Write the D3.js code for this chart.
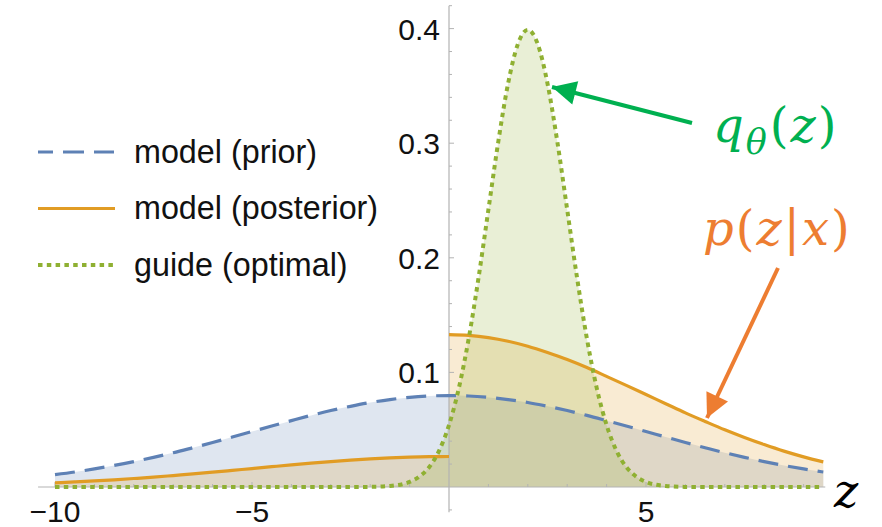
<!DOCTYPE html>
<html><head><meta charset="utf-8">
<script src="https://cdn.jsdelivr.net/npm/d3@7"></script>
<style>
body{margin:0;background:#fff;}
svg{display:block;}
</style></head><body>
<svg id="chart" width="882" height="527"></svg>
<script>
// ---------- data ----------
const priorZ = [-10,-9.5,-9,-8.5,-8,-7.5,-7,-6.5,-6,-5.5,-5,-4.5,-4,-3.5,-3,-2.5,-2,-1.5,-1,-0.5,0,0.5,1,1.5,2,2.5,3,3.5,4,4.5,5,5.5,6,6.5,7,7.5,8,8.5,9,9.5];
const priorP = [0.0108,0.0131,0.0158,0.0188,0.0222,0.0259,0.0299,0.0343,0.0388,0.0436,0.0484,0.0532,0.0579,0.0625,0.0667,0.0704,0.0737,0.0763,0.0782,0.0794,0.0798,0.0794,0.0782,0.0763,0.0737,0.0704,0.0667,0.0625,0.0579,0.0532,0.0484,0.0436,0.0388,0.0343,0.0299,0.0259,0.0222,0.0188,0.0158,0.0131];

const postLeftZ = [-10,-9.5,-9,-8.5,-8,-7.5,-7,-6.5,-6,-5.5,-5,-4.5,-4,-3.5,-3,-2.5,-2,-1.5,-1,-0.5,0];
const postLeftP = [0.0036,0.0044,0.0053,0.0063,0.0074,0.0086,0.0100,0.0114,0.0129,0.0145,0.0161,0.0177,0.0193,0.0208,0.0222,0.0235,0.0246,0.0254,0.0261,0.0265,0.0266];
const postRightZ = [0,0.5,1,1.5,2,2.5,3,3.5,4,4.5,5,5.5,6,6.5,7,7.5,8,8.5,9,9.5];
const postRightP = [0.1330,0.1323,0.1304,0.1272,0.1228,0.1173,0.1112,0.1042,0.0965,0.0887,0.0807,0.0727,0.0647,0.0572,0.0499,0.0432,0.0370,0.0313,0.0263,0.0219];

const guideZ = [-10,-6,-3,-2,-1.5,-1,-0.75,-0.5,-0.25,0,0.25,0.5,0.75,1,1.25,1.5,1.75,2,2.25,2.5,2.75,3,3.25,3.5,3.75,4,4.25,4.5,4.75,5,5.5,6,7,9.5];
const guideP = [0,0,0,0.0001,0.0009,0.0044,0.0091,0.0175,0.0317,0.0540,0.0863,0.1295,0.1826,0.2420,0.3011,0.3521,0.3867,0.3989,0.3867,0.3521,0.3011,0.2420,0.1826,0.1295,0.0863,0.0540,0.0317,0.0175,0.0091,0.0044,0.0009,0.0001,0,0];

const xMajorTicks = [-10,-5,5];
const xMinorTicks = [-9,-8,-7,-6,-4,-3,-2,-1,1,2,3,4,6,7,8,9];
const yMajorTicks = [0.1,0.2,0.3,0.4];
const yMinorTicks = [-0.02,0.02,0.04,0.06,0.08,0.12,0.14,0.16,0.18,0.22,0.24,0.26,0.28,0.32,0.34,0.36,0.38,0.42];
const xTickLabels = ["\u221210","\u22125","5"];
const yTickLabels = ["0.1","0.2","0.3","0.4"];
const legendLabels = ["model (prior)","model (posterior)","guide (optimal)"];

// ---------- layout ----------
const colPrior = "#5e81b5", colPost = "#e19c24", colGuide = "#8fb032";
const svg = d3.select("#chart");
svg.append("rect").attr("width",882).attr("height",527).attr("fill","#fff");

const x = d3.scaleLinear().domain([0, 5]).range([449, 646]);
const y = d3.scaleLinear().domain([0, 0.4]).range([487, 28.6]);

const toPts = (zs, ps) => zs.map((z,i)=>[z, ps[i]]);
const area = d3.area().x(d=>x(d[0])).y0(y(0)).y1(d=>y(d[1])).curve(d3.curveMonotoneX);
const line = d3.line().x(d=>x(d[0])).y(d=>y(d[1])).curve(d3.curveMonotoneX);

const prior = toPts(priorZ, priorP);
const postL = toPts(postLeftZ, postLeftP);
const postR = toPts(postRightZ, postRightP);
const guide = toPts(guideZ, guideP);

const fills = svg.append("g");
fills.append("path").attr("d", area(prior)).attr("fill", colPrior).attr("fill-opacity", 0.2);
fills.append("path").attr("d", area(postL)).attr("fill", colPost).attr("fill-opacity", 0.2);
fills.append("path").attr("d", area(postR)).attr("fill", colPost).attr("fill-opacity", 0.2);
fills.append("path").attr("d", area(guide)).attr("fill", colGuide).attr("fill-opacity", 0.2);

// ---------- axes ----------
const axisCol = "#b3b3b3";
const ax = svg.append("g");
ax.append("line").attr("x1", x(-10.43)).attr("x2", x(9.55)).attr("y1", y(0)).attr("y2", y(0)).attr("stroke", axisCol).attr("stroke-width", 1.2);
ax.append("line").attr("x1", x(0)).attr("x2", x(0)).attr("y1", y(-0.022)).attr("y2", y(0.42)).attr("stroke", axisCol).attr("stroke-width", 1.2);
ax.selectAll(".xmaj").data(xMajorTicks).enter().append("line")
  .attr("x1", d=>x(d)).attr("x2", d=>x(d)).attr("y1", y(0)).attr("y2", y(0)-5).attr("stroke", axisCol);
ax.selectAll(".xmin").data(xMinorTicks).enter().append("line")
  .attr("x1", d=>x(d)).attr("x2", d=>x(d)).attr("y1", y(0)).attr("y2", y(0)-3).attr("stroke", axisCol);
ax.selectAll(".ymaj").data(yMajorTicks).enter().append("line")
  .attr("x1", x(0)).attr("x2", x(0)+5).attr("y1", d=>y(d)).attr("y2", d=>y(d)).attr("stroke", axisCol);
ax.selectAll(".ymin").data(yMinorTicks).enter().append("line")
  .attr("x1", x(0)).attr("x2", x(0)+3).attr("y1", d=>y(d)).attr("y2", d=>y(d)).attr("stroke", axisCol);

const lblFont = "'Liberation Sans', Arial, sans-serif";
ax.selectAll(".xl").data(xMajorTicks).enter().append("text")
  .attr("x", d=>x(d)).attr("y", 522).attr("text-anchor","middle")
  .attr("font-family", lblFont).attr("font-size", 30).attr("fill","#111")
  .text((d,i)=>xTickLabels[i]);
ax.selectAll(".yl").data(yMajorTicks).enter().append("text")
  .attr("x", 440).attr("y", d=>y(d)+11).attr("text-anchor","end")
  .attr("font-family", lblFont).attr("font-size", 30).attr("fill","#111")
  .text((d,i)=>yTickLabels[i]);

// ---------- curves ----------
const dashPrior = "20,10", dashGuide = "4.5,4.3";
const lines = svg.append("g").attr("fill","none");
lines.append("path").attr("d", line(prior)).attr("stroke", colPrior).attr("stroke-width", 3.2).attr("stroke-dasharray", dashPrior);
lines.append("path").attr("d", line(postL)).attr("stroke", colPost).attr("stroke-width", 3.2);
lines.append("path").attr("d", line(postR)).attr("stroke", colPost).attr("stroke-width", 3.2);
lines.append("path").attr("d", line(guide)).attr("stroke", colGuide).attr("stroke-width", 4).attr("stroke-dasharray", dashGuide);

// ---------- legend ----------
const leg = svg.append("g");
const legStyles = [
  {c: colPrior, w: 3.2, dash: "15,10,21,10,20"},
  {c: colPost, w: 3.2, dash: null},
  {c: colGuide, w: 4, dash: dashGuide}
];
legendLabels.forEach((t,i)=>{
  const yy = 152 + i*56.5;
  const l = leg.append("line").attr("x1", 38).attr("x2", 115).attr("y1", yy).attr("y2", yy)
    .attr("stroke", legStyles[i].c).attr("stroke-width", legStyles[i].w);
  if (legStyles[i].dash) l.attr("stroke-dasharray", legStyles[i].dash);
  leg.append("text").attr("x", 134).attr("y", yy+10.5)
    .attr("font-family", lblFont).attr("font-size", 32.3).attr("fill","#111").text(t);
});

// ---------- annotations ----------
const mathFont = "'DejaVu Serif', 'Liberation Serif', serif";
const defs = svg.append("defs");
function marker(id, col){
  defs.append("marker").attr("id", id).attr("viewBox","0 0 10 10").attr("refX", 10).attr("refY", 5)
    .attr("markerWidth", 6.2).attr("markerHeight", 6).attr("orient","auto").attr("markerUnits","strokeWidth")
    .append("path").attr("d","M0,0 L10,5 L0,10 Z").attr("fill", col);
}
marker("ag", "#00b050");
marker("ao", "#ed7d31");
svg.append("line").attr("x1", 692).attr("y1", 123).attr("x2", 552).attr("y2", 87)
  .attr("stroke", "#00b050").attr("stroke-width", 4).attr("marker-end","url(#ag)");
svg.append("line").attr("x1", 778).attr("y1", 268).attr("x2", 707).attr("y2", 418)
  .attr("stroke", "#ed7d31").attr("stroke-width", 4).attr("marker-end","url(#ao)");

// q_theta(z)
const qt = svg.append("text").attr("font-family", mathFont).attr("fill", "#00b050").attr("font-size", 48)
  .attr("x", 713).attr("y", 142).attr("letter-spacing", 2);
qt.append("tspan").attr("font-style","italic").text("q");
qt.append("tspan").attr("font-style","italic").attr("font-size", 35).attr("dy", 12).text("\u03b8");
qt.append("tspan").attr("dy", -12).attr("dx", 1).text("(");
qt.append("tspan").attr("font-style","italic").text("z");
qt.append("tspan").text(")");

// p(z|x)
const pt = svg.append("text").attr("font-family", mathFont).attr("fill", "#ed7d31").attr("font-size", 48)
  .attr("x", 703).attr("y", 245).attr("letter-spacing", 2);
pt.append("tspan").attr("font-style","italic").text("p");
pt.append("tspan").text("(");
pt.append("tspan").attr("font-style","italic").text("z");
pt.append("tspan").text("|");
pt.append("tspan").attr("font-style","italic").text("x");
pt.append("tspan").text(")");

svg.append("text").attr("x", 834).attr("y", 507).attr("font-family", mathFont)
  .attr("font-style","italic").attr("font-size", 46).attr("fill","#000").text("z");
</script>
</body></html>
